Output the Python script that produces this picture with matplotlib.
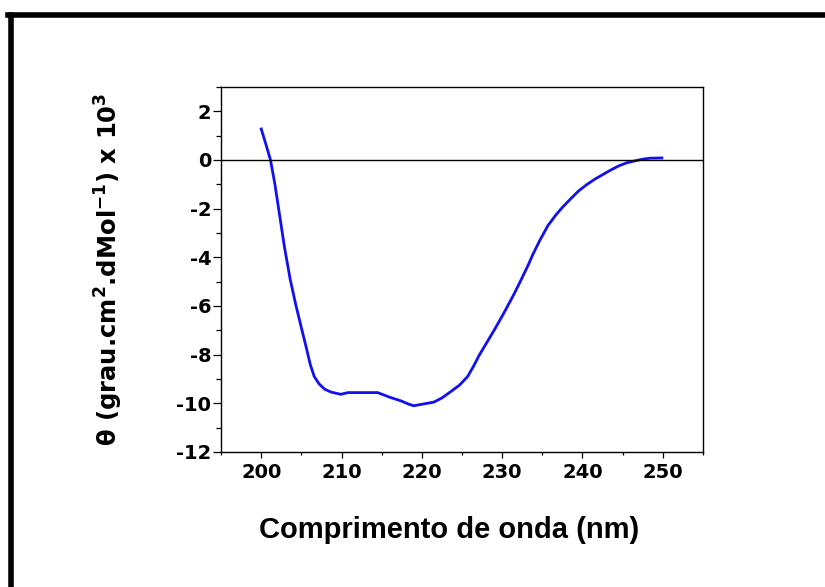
import matplotlib
matplotlib.use("Agg")
import matplotlib.pyplot as plt
from matplotlib.lines import Line2D
from matplotlib.ticker import MultipleLocator

# CD spectrum
wavelength = [200.0, 200.6, 201.15, 201.7, 202.3, 202.9, 203.6, 204.3, 205.0,
              205.6, 206.1, 206.6, 207.2, 207.9, 208.7, 209.9, 210.8, 212.5,
              214.5, 216.0, 217.4, 218.4, 219.0, 220.0, 221.5, 222.5, 223.6,
              224.7, 225.7, 226.4, 227.1, 228.0, 229.0, 230.2, 231.5, 232.4,
              233.3, 233.8, 234.7, 235.7, 236.6, 237.5, 238.5, 239.5, 240.6,
              241.6, 242.6, 243.5, 244.5, 245.5, 246.4, 247.5, 248.4, 249.9]
theta = [1.27, 0.62, 0.0, -1.0, -2.3, -3.6, -4.9, -5.95, -6.9,
         -7.7, -8.4, -8.9, -9.2, -9.42, -9.54, -9.63, -9.56, -9.56,
         -9.56, -9.75, -9.9, -10.04, -10.1, -10.04, -9.95, -9.78, -9.52,
         -9.25, -8.9, -8.5, -8.05, -7.55, -7.0, -6.3, -5.5, -4.9,
         -4.28, -3.9, -3.3, -2.7, -2.3, -1.95, -1.61, -1.28, -1.0,
         -0.78, -0.59, -0.42, -0.25, -0.12, -0.05, 0.03, 0.07, 0.08]

x_ticks = [200, 210, 220, 230, 240, 250]
y_ticks = [2, 0, -2, -4, -6, -8, -10, -12]

plt.rcParams["font.family"] = ["Liberation Sans", "DejaVu Sans"]
plt.rcParams["axes.unicode_minus"] = False

fig = plt.figure(figsize=(8.25, 5.87), dpi=100)
ax = fig.add_axes([0.268, 0.230, 0.584, 0.622])

ax.plot(wavelength, theta, color="#1010f0", lw=2.0)
ax.axhline(0, color="black", lw=1.0)

ax.set_xlim(195, 255)
ax.set_ylim(-12, 3)
ax.set_xticks(x_ticks)
ax.set_yticks(y_ticks)
ax.xaxis.set_minor_locator(MultipleLocator(5))
ax.yaxis.set_minor_locator(MultipleLocator(1))
ax.tick_params(axis="x", which="major", direction="out", length=4, width=0.9, pad=4)
ax.tick_params(axis="x", which="minor", direction="out", length=2, width=0.9)
ax.tick_params(axis="y", which="major", direction="out", length=6, width=0.9, pad=1)
ax.tick_params(axis="y", which="minor", direction="out", length=3.5, width=0.9)
for lab in ax.get_xticklabels() + ax.get_yticklabels():
    lab.set_fontfamily("DejaVu Sans")
    lab.set_fontweight("bold")
    lab.set_fontsize(14)
for sp in ax.spines.values():
    sp.set_linewidth(1.0)

ax.set_xlabel("Comprimento de onda (nm)", fontsize=21, fontweight="bold")
ax.xaxis.set_label_coords(0.473, -0.175)
ax.set_ylabel(r"θ (grau.cm$^\mathbf{2}$.dMol$^\mathbf{-1}$) x 10$^\mathbf{3}$",
              fontsize=17.5, fontweight="bold", family="DejaVu Sans")
ax.yaxis.set_label_coords(-0.20, 0.5)

# thick frame on the top and left edges of the picture
fig.add_artist(Line2D([11 / 825, 11 / 825], [0, 1 - 14.5 / 587],
                      transform=fig.transFigure, color="black", lw=4))
fig.add_artist(Line2D([8 / 825, 1], [1 - 14.5 / 587, 1 - 14.5 / 587],
                      transform=fig.transFigure, color="black", lw=4))

fig.savefig("out.png", dpi=100)
